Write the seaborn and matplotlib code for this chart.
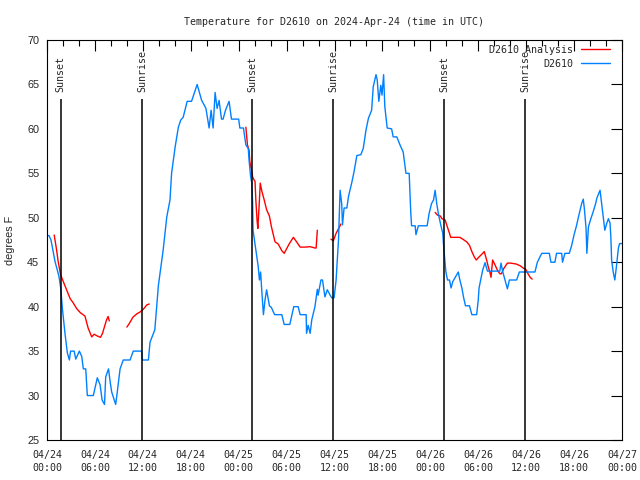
import pandas as pd
import matplotlib
matplotlib.use("Agg")
import matplotlib.pyplot as plt
import matplotlib.dates as mdates
import seaborn as sns

# hours after 2024-04-24 00:00 UTC, temperatures in degrees F
obs_hours = [0.0, 0.25, 0.5, 1.0, 1.5, 1.7, 1.95, 2.25, 2.55, 2.8, 2.95, 3.4, 3.6, 4.05, 4.35, 4.55,
             4.85, 5.05, 5.8, 6.3, 6.65, 6.9, 7.2, 7.35, 7.7, 7.9, 8.1, 8.6, 8.8, 9.15, 9.55, 10.4,
             10.8, 11.85, 11.95, 12.7, 12.9, 13.5, 13.95, 14.55, 15.0, 15.4, 15.6, 16.05, 16.45, 16.75,
             17.05, 17.55, 18.1, 18.8, 19.35, 19.9, 20.3, 20.55, 20.8, 21.05, 21.3, 21.55, 21.85, 22.05,
             22.35, 22.8, 23.1, 24.0, 24.15, 24.6, 24.9, 25.2, 25.3, 25.5, 25.65, 25.75, 25.8, 26.15,
             26.45, 26.6, 26.75, 26.9, 27.1, 27.3, 27.5, 27.85, 28.1, 28.5, 29.4, 29.7, 30.4, 30.9,
             31.45, 31.7, 32.45, 32.5, 32.7, 32.95, 33.15, 33.55, 33.85, 33.95, 34.3, 34.5, 34.8, 35.1,
             35.45, 35.65, 35.95, 36.2, 36.5, 36.7, 36.9, 37.0, 37.2, 37.55, 37.75, 38.15, 38.45, 38.8,
             39.3, 39.6, 39.95, 40.25, 40.65, 40.85, 41.2, 41.35, 41.55, 41.8, 41.95, 42.15, 42.3, 42.6,
             43.15, 43.35, 43.8, 44.2, 44.6, 44.95, 45.35, 45.55, 45.65, 46.1, 46.2, 46.5, 47.6, 47.85,
             48.15, 48.4, 48.6, 48.8, 49.0, 49.3, 49.55, 49.7, 49.95, 50.15, 50.4, 50.6, 50.8, 51.5,
             51.7, 51.95, 52.15, 52.4, 52.9, 53.2, 53.8, 54.0, 54.1, 54.3, 54.55, 54.85, 55.15, 56.7,
             56.85, 57.05, 57.35, 57.65, 57.9, 58.8, 59.15, 61.1, 61.4, 61.95, 62.9, 63.1, 63.6, 63.8,
             64.45, 64.55, 64.85, 65.4, 65.7, 66.0, 66.3, 66.55, 66.95, 67.15, 67.3, 67.5, 67.6, 67.8,
             68.1, 68.4, 68.7, 68.85, 69.25, 69.45, 69.65, 69.85, 70.1, 70.3, 70.5, 70.6, 70.7, 70.9,
             71.1, 71.3, 71.55, 71.7, 72.0]
obs_temps = [48, 48, 47.5, 45.1, 43.4, 42.2, 39.6, 37, 34.8, 34, 35, 35, 34.1, 35, 34.4, 33,
             33, 30, 30, 32, 31.2, 29.5, 29, 32.1, 33, 31.6, 30.4, 29, 30.4, 33, 34, 34,
             35, 35, 34, 34, 36, 37.4, 42.4, 46.4, 50.1, 52, 55, 58, 60.2, 61,
             61.3, 63.1, 63.1, 65, 63.25, 62.3, 60.1, 62.1, 60.1, 64.1, 62.3, 63.2, 61.1, 61.1,
             62.1, 63.1, 61.1, 61.1, 60.1, 60.1, 58.2, 57.8, 56.5, 54.6, 53.9, 51.6, 48.6, 46.4,
             44.5, 43, 43.9, 41.7, 39.1, 40.75, 41.9, 40.1, 39.9, 39.1, 39.1, 38, 38, 40,
             40, 39.1, 39.1, 37, 37.9, 37, 38.5, 40, 41.95, 41.3, 43, 43, 41.1, 41.9,
             41.3, 41, 41, 43, 47.5, 53.1, 51.6, 49.2, 51.1, 51.1, 52.4, 53.9, 55.2, 57,
             57.1, 57.8, 59.9, 61.2, 62.1, 64.75, 66.1, 65.5, 63.1, 64.9, 63.8, 66.1, 62.5, 60.1,
             60, 59.1, 59.1, 58.2, 57.4, 55, 55, 50.6, 49.1, 49.1, 48.1, 49.1, 49.1, 50.5,
             51.6, 52, 53.1, 51.6, 50.5, 49.2, 48.3, 46.4, 43.9, 43, 43, 42.1, 42.8, 43.9,
             43, 42.1, 41.1, 40.1, 40.1, 39.1, 39.1, 40.75, 42.1, 43, 44.1, 44.95, 44, 44,
             44.9, 44, 43, 42, 43, 43, 43.9, 43.9, 45, 46, 46, 45, 45, 46,
             46, 45, 46, 46, 46.9, 48.1, 49.1, 50.1, 51.6, 52.1, 50.9, 48.8, 46, 49,
             49.9, 50.7, 51.6, 52.2, 53.1, 51.6, 50.1, 48.6, 49.4, 49.9, 49.4, 47.9, 45.25, 43.9,
             43, 44.5, 46.6, 47.1, 47.1]

# analysis curve comes in separate pieces
ana1_hours = [0.9, 1.2, 1.4, 1.7, 2.05, 2.45, 2.9, 3.3, 3.7, 4.2, 4.75, 5.15, 5.6, 5.9, 6.3, 6.7,
              6.95, 7.45, 7.65, 7.8]
ana1_temps = [48.06, 46.4, 45.06, 43.6, 42.8, 41.9, 40.9, 40.4, 39.8, 39.3, 38.95, 37.6, 36.6, 36.9,
              36.7, 36.55, 37, 38.5, 38.9, 38.4]
ana2_hours = [10.0, 10.3, 10.75, 11.25, 11.65, 12.05, 12.5, 12.8]
ana2_temps = [37.7, 38.1, 38.8, 39.2, 39.4, 39.7, 40.2, 40.3]
ana3_hours = [24.9, 25.1, 25.3, 25.4, 25.6, 25.75, 25.9, 26.05, 26.15, 26.3, 26.4, 26.6, 26.7, 26.9,
              27.2, 27.5, 27.85, 28.1, 28.55, 28.95, 29.4, 29.7, 30.35, 30.85, 31.25, 31.7, 32.3,
              32.95, 33.55, 33.7, 33.85]
ana3_temps = [60.2, 58.2, 57.6, 56.3, 55.4, 54.6, 54.3, 54.1, 52, 49.75, 48.8, 52, 53.9, 53,
              52, 50.9, 50.2, 49, 47.3, 47.05, 46.3, 46, 47.1, 47.8, 47.3, 46.7, 46.7,
              46.75, 46.6, 46.6, 48.6]
ana4_hours = [35.55, 35.85, 36.2, 36.7, 36.8]
ana4_temps = [47.6, 47.4, 48.25, 49.1, 49.3]
ana5_hours = [48.6, 48.9, 49.25, 49.45, 49.85, 50.05, 50.4, 50.55, 51.7, 52.05, 52.55, 52.9, 53.2,
              53.5, 53.75, 54.05, 54.45, 54.75, 55.05, 55.25, 55.45, 55.6, 55.8, 56.1, 56.4, 56.7,
              56.9, 57.2, 57.65, 58.05, 58.75, 59.25, 59.7, 59.95, 60.2, 60.5, 60.75]
ana5_temps = [50.6, 50.3, 50.2, 49.9, 49.75, 49.2, 48.25, 47.8, 47.8, 47.6, 47.3, 46.9, 46.2,
              45.6, 45.25, 45.55, 45.9, 46.2, 45.25, 44.5, 43.9, 43.3, 45.25, 44.7, 44.1, 43.7,
              43.7, 44.3, 44.9, 44.9, 44.8, 44.6, 44.3, 44.2, 43.75, 43.3, 43.1]

sun_hours = [1.72, 11.93, 25.7, 35.85, 49.75, 59.9]
sun_labels = ["Sunset", "Sunrise", "Sunset", "Sunrise", "Sunset", "Sunrise"]

t0 = pd.Timestamp("2024-04-24 00:00")
MONO = "DejaVu Sans Mono"
SANS = "Liberation Sans"

# long table, one "seg" per unbroken piece of line
frames = [pd.DataFrame({"hours": obs_hours, "temp": obs_temps, "series": "D2610", "seg": 0})]
ana = [(ana1_hours, ana1_temps), (ana2_hours, ana2_temps), (ana3_hours, ana3_temps),
       (ana4_hours, ana4_temps), (ana5_hours, ana5_temps)]
for i, (h, t) in enumerate(ana):
    frames.append(pd.DataFrame({"hours": h, "temp": t, "series": "D2610 Analysis", "seg": i + 1}))
df = pd.concat(frames, ignore_index=True)
df["time"] = t0 + pd.to_timedelta(df["hours"], unit="h")

sns.set_style("white")
plt.rcParams["font.family"] = [MONO, "DejaVu Sans"]

fig = plt.figure(figsize=(6.4, 4.8), dpi=100)
ax = fig.add_axes([47 / 640, 40 / 480, 575 / 640, 400 / 480])

sns.lineplot(data=df, x="time", y="temp", hue="series", units="seg", estimator=None, sort=False,
             hue_order=["D2610 Analysis", "D2610"],
             palette={"D2610 Analysis": "#ff0000", "D2610": "#0080ff"},
             linewidth=1.0, ax=ax)

# sunrise / sunset markers
sun_times = [t0 + pd.Timedelta(hours=h) for h in sun_hours]
ax.vlines(sun_times, 25, 63.4, color="black", linewidth=1.1, zorder=3)
for t, lab in zip(sun_times, sun_labels):
    ax.text(t, 64.1, lab, rotation=90, ha="center", va="bottom", fontsize=7.2, family=MONO)

ax.set_xlim(t0, t0 + pd.Timedelta(hours=72))
ax.set_ylim(25, 70)
ax.set_yticks(range(25, 71, 5))
ax.xaxis.set_major_locator(mdates.HourLocator(byhour=[0, 6, 12, 18]))
ax.xaxis.set_minor_locator(mdates.HourLocator(byhour=range(0, 24, 2)))
ax.xaxis.set_major_formatter(mdates.DateFormatter("%m/%d\n%H:%M"))

ax.tick_params(axis="both", which="both", direction="in", top=True, right=True, color="black", width=0.8)
ax.tick_params(axis="both", which="major", length=8)
ax.tick_params(axis="x", which="minor", length=4)
ax.tick_params(axis="x", which="major", pad=7.5, labelsize=7.2)
ax.tick_params(axis="y", which="major", pad=5.5, labelsize=7.8)
for lbl in ax.get_yticklabels():
    lbl.set_family(SANS)
for lbl in ax.get_xticklabels():
    lbl.set_linespacing(1.3)

for s in ax.spines.values():
    s.set_color("black")
    s.set_linewidth(0.8)

ax.set_xlabel("")
ax.set_ylabel("degrees F", family=SANS, fontsize=7.8, labelpad=9)
ax.set_title("Temperature for D2610 on 2024-Apr-24 (time in UTC)", fontsize=7.2, family=MONO, pad=11)

sns.move_legend(ax, "upper right", bbox_to_anchor=(1 - 12 / 575, 1 - 5 / 400), frameon=False,
                markerfirst=False, title="", prop={"family": MONO, "size": 7.2},
                handlelength=2.9, handletextpad=0.8, labelspacing=0.4,
                borderaxespad=0, borderpad=0)

fig.savefig("out.png", dpi=100)
